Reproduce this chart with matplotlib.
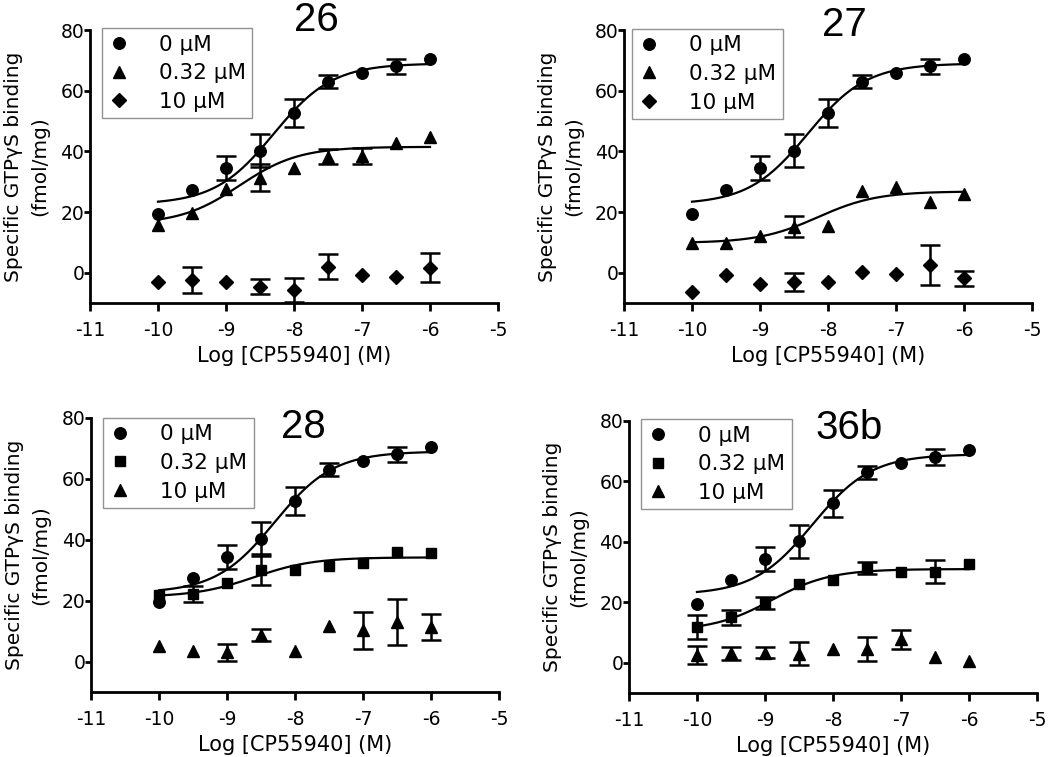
import numpy as np
import matplotlib
matplotlib.use("Agg")
import matplotlib.pyplot as plt

plt.rcParams['font.family'] = ['DejaVu Sans']

log_conc = [-10, -9.5, -9, -8.5, -8, -7.5, -7, -6.5, -6]

# 0 uM (control) – same in every panel
ctrl_y   = [19.5, 27.3, 34.4, 40.2, 52.7, 63.0, 66.0, 68.0, 70.5]
ctrl_err = [0, 0, 4.0, 5.5, 4.5, 2.2, 0, 2.6, 0]
ctrl_fit = [22.5, 69.0, -8.3]   # bottom, top, logEC50

# Panel 26
p26_mid_y   = [15.7, 19.6, 27.5, 31.3, 34.4, 38.2, 38.5, 42.6, 44.6]
p26_mid_err = [0, 0, 0, 4.5, 0, 2.5, 2.5, 0, 0]
p26_mid_fit = [16.0, 41.5, -8.8]
p26_hi_y    = [-3.0, -2.4, -3.0, -4.6, -5.7, 2.0, -0.8, -1.3, 1.6]
p26_hi_err  = [0, 4.2, 0, 2.5, 4.1, 4.1, 0, 0, 4.8]

# Panel 27
p27_mid_y   = [9.7, 9.9, 12.1, 15.2, 15.4, 27.0, 28.1, 23.4, 25.9]
p27_mid_err = [0, 0, 0, 3.5, 0, 0, 0, 0, 0]
p27_mid_fit = [9.8, 26.8, -8.15]
p27_hi_y    = [-6.3, -0.8, -3.8, -3.0, -3.0, 0.3, -0.5, 2.5, -1.9]
p27_hi_err  = [0, 0, 0, 2.9, 0, 0, 0, 6.6, 2.4]

# Panel 28
p28_mid_y   = [21.8, 22.1, 25.9, 30.1, 29.9, 31.4, 32.5, 35.9, 35.8]
p28_mid_err = [0, 2.6, 0, 5.1, 0, 0, 0, 0, 0]
p28_mid_fit = [21.2, 34.2, -8.6]
p28_hi_y    = [5.1, 3.6, 3.1, 8.8, 3.4, 11.7, 10.2, 13.0, 11.3]
p28_hi_err  = [0, 0, 2.8, 2.0, 0, 0, 6.0, 7.6, 4.3]

# Panel 36b
p36_mid_y   = [11.9, 15.0, 19.9, 26.1, 27.4, 31.3, 30.1, 30.1, 32.7]
p36_mid_err = [3.9, 2.5, 2.0, 0, 0, 2.0, 0, 3.8, 0]
p36_mid_fit = [10.5, 31.0, -8.9]
p36_hi_y    = [2.5, 3.1, 3.3, 2.9, 4.4, 4.6, 7.7, 1.8, 0.6]
p36_hi_err  = [2.9, 2.2, 1.8, 3.8, 0, 3.9, 3.2, 0, 0]

titles = ['26', '27', '28', '36b']
legend_labels = ['0 \u03bcM', '0.32 \u03bcM', '10 \u03bcM']
xlabel = 'Log [CP55940] (M)'
ylabel = 'Specific GTP\u03b3S binding\n(fmol/mg)'
xticks = [-11, -10, -9, -8, -7, -6, -5]
yticks = [0, 20, 40, 60, 80]

panels = [
    dict(title=titles[0], mid=(p26_mid_y, p26_mid_err, p26_mid_fit), hi=(p26_hi_y, p26_hi_err),
         markers=('o', '^', 'D'), rect=[0.0857, 0.5997, 0.3886, 0.3606],
         tpos=(0.556, 1.037), lpos=(0.029, 1.007)),
    dict(title=titles[1], mid=(p27_mid_y, p27_mid_err, p27_mid_fit), hi=(p27_hi_y, p27_hi_err),
         markers=('o', '^', 'D'), rect=[0.5943, 0.5997, 0.3886, 0.3606],
         tpos=(0.54, 1.02), lpos=(0.02, 1.004)),
    dict(title=titles[2], mid=(p28_mid_y, p28_mid_err, p28_mid_fit), hi=(p28_hi_y, p28_hi_err),
         markers=('o', 's', '^'), rect=[0.0867, 0.0859, 0.3886, 0.362],
         tpos=(0.52, 0.967), lpos=(0.03, 1.0)),
    dict(title=titles[3], mid=(p36_mid_y, p36_mid_err, p36_mid_fit), hi=(p36_hi_y, p36_hi_err),
         markers=('o', 's', '^'), rect=[0.599, 0.0846, 0.3886, 0.3593],
         tpos=(0.54, 0.974), lpos=(0.03, 1.007)),
]

msize = {'o': 8.3, '^': 8.3, 'D': 6.8, 's': 7.8}


def logistic(x, p):
    bottom, top, ec50 = p
    return bottom + (top - bottom) / (1 + 10 ** (ec50 - x))


fig = plt.figure(figsize=(10.5, 7.57), dpi=100)
xs = np.asarray(log_conc, dtype=float)
xfit = np.linspace(xs.min(), xs.max(), 200)

for pan in panels:
    ax = fig.add_axes(pan['rect'])
    series = [(ctrl_y, ctrl_err, ctrl_fit), pan['mid'], (pan['hi'][0], pan['hi'][1], None)]
    handles = []
    for (yv, ev, fit), mk, lab in zip(series, pan['markers'], legend_labels):
        yv = np.asarray(yv, dtype=float)
        ev = np.asarray(ev, dtype=float)
        m = ev > 0
        if m.any():
            ax.errorbar(xs[m], yv[m], yerr=ev[m], fmt='none', ecolor='black',
                        elinewidth=1.8, capsize=7, capthick=1.8, zorder=2)
        h, = ax.plot(xs, yv, linestyle='none', marker=mk, markersize=msize[mk],
                     color='black', zorder=3, label=lab)
        handles.append(h)
        if fit is not None:
            ax.plot(xfit, logistic(xfit, fit), color='black', lw=1.6, zorder=2)

    ax.set_xlim(-11, -5)
    ax.set_ylim(-10, 80)
    ax.set_xticks(xticks)
    ax.set_xticklabels([str(t) for t in xticks])
    ax.set_yticks(yticks)
    ax.spines['top'].set_visible(False)
    ax.spines['right'].set_visible(False)
    ax.spines['left'].set_linewidth(2)
    ax.spines['bottom'].set_linewidth(2)
    ax.tick_params(axis='x', direction='out', length=6, width=2, labelsize=13.5, pad=7)
    ax.tick_params(axis='y', direction='out', length=4, width=2, labelsize=13.5, pad=0)
    ax.set_xlabel(xlabel, fontsize=15, labelpad=4)
    ax.set_ylabel(ylabel, fontsize=14.5, labelpad=8, linespacing=1.5)
    ax.text(pan['tpos'][0], pan['tpos'][1], pan['title'], transform=ax.transAxes,
            fontsize=29, ha='center', va='center', family='Liberation Sans')
    leg = ax.legend(handles=handles, loc='upper left', bbox_to_anchor=pan['lpos'],
                    fontsize=15.5, frameon=True, fancybox=False, handlelength=1.0,
                    handletextpad=1.35, borderpad=0.3, labelspacing=0.4,
                    borderaxespad=0)
    leg.get_frame().set_edgecolor('#777777')
    leg.get_frame().set_linewidth(1.0)

fig.savefig('out.png', dpi=100)
